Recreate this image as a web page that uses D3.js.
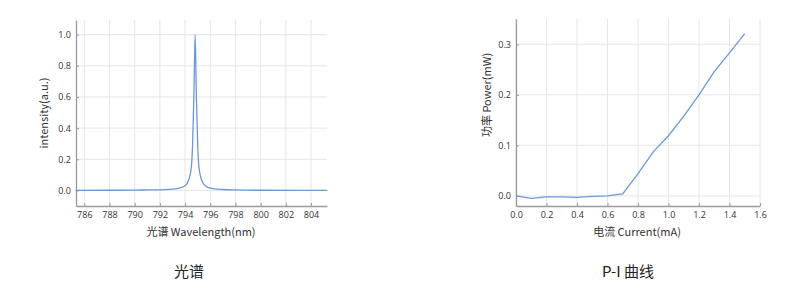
<!DOCTYPE html>
<html>
<head>
<meta charset="utf-8">
<script src="https://cdn.jsdelivr.net/npm/d3@7"></script>
<style>
  body { margin: 0; background: #fff; }
  text { font-family: "Noto Sans CJK SC", "Open Sans", sans-serif; }
</style>
</head>
<body>
<script>
// spectrum: wavelength (nm) vs intensity (a.u.)
var wavelength = [785.3, 788, 790, 791, 792, 793, 793.5, 794, 794.3, 794.5, 794.6, 794.7, 794.8, 794.9, 795.0, 795.1, 795.3, 795.6, 796, 797, 798, 800, 805.3];
var intensity  = [0, 0.001, 0.002, 0.003, 0.004, 0.008, 0.014, 0.03, 0.07, 0.15, 0.3, 0.6, 1.0, 0.6, 0.3, 0.15, 0.07, 0.03, 0.015, 0.006, 0.003, 0.001, 0];
var wlTicks = [786, 788, 790, 792, 794, 796, 798, 800, 802, 804];
var intTicks = [0, 0.2, 0.4, 0.6, 0.8, 1.0];

// P-I curve: current (mA) vs power (mW)
var current = [0, 0.1, 0.2, 0.3, 0.4, 0.5, 0.6, 0.7, 0.8, 0.9, 1.0, 1.1, 1.2, 1.3, 1.4, 1.5];
var power   = [0, -0.005, -0.002, -0.002, -0.003, -0.001, 0, 0.004, 0.044, 0.087, 0.119, 0.158, 0.2, 0.246, 0.283, 0.321];
var curTicks = [0, 0.2, 0.4, 0.6, 0.8, 1.0, 1.2, 1.4, 1.6];
var powTicks = [0, 0.1, 0.2, 0.3];

var svg = d3.select("body").append("svg")
    .attr("width", 797)
    .attr("height", 295);

// draws one small panel
function panel(opt) {
    var x = d3.scaleLinear().domain(opt.xDomain).range([opt.left, opt.right]);
    var y = d3.scaleLinear().domain(opt.yDomain).range([opt.bottom, opt.top]);
    var g = svg.append("g");

    // grid
    g.selectAll(".vg").data(opt.xTicks).enter().append("line")
        .attr("x1", function(d){ return x(d); }).attr("x2", function(d){ return x(d); })
        .attr("y1", opt.top).attr("y2", opt.bottom)
        .attr("stroke", "#e6e6e6").attr("stroke-width", 1);
    g.selectAll(".hg").data(opt.yTicks).enter().append("line")
        .attr("y1", function(d){ return y(d); }).attr("y2", function(d){ return y(d); })
        .attr("x1", opt.left).attr("x2", opt.right)
        .attr("stroke", "#e6e6e6").attr("stroke-width", 1);

    // axes
    var xAxis = d3.axisBottom(x).tickValues(opt.xTicks).tickFormat(opt.xFmt)
        .tickSizeInner(-3).tickSizeOuter(0).tickPadding(6);
    var yAxis = d3.axisLeft(y).tickValues(opt.yTicks).tickFormat(d3.format(".1f"))
        .tickSizeInner(-3).tickSizeOuter(0).tickPadding(5);

    var ax = g.append("g").attr("transform", "translate(0," + opt.bottom + ")").call(xAxis);
    var ay = g.append("g").attr("transform", "translate(" + opt.left + ",0)").call(yAxis);
    [ax, ay].forEach(function(a){
        a.select(".domain").attr("stroke", "#9a9a9a").attr("stroke-width", 1.3);
        a.selectAll(".tick line").attr("stroke", "#9a9a9a");
        a.selectAll(".tick text").attr("fill", "#333").style("font-size", "9px")
            .style("font-family", "'Open Sans', sans-serif");
    });

    // line
    var pts = opt.xs.map(function(v, i){ return [v, opt.ys[i]]; });
    g.append("path").datum(pts)
        .attr("fill", "none")
        .attr("stroke", "#6c98d8")
        .attr("stroke-width", 1.3)
        .attr("d", d3.line()
            .x(function(d){ return x(d[0]); })
            .y(function(d){ return y(d[1]); })
            .curve(opt.curve));

    // labels
    g.append("text").attr("x", opt.xLabelX).attr("y", 236)
        .attr("text-anchor", "middle").attr("fill", "#333").style("font-size", "11px")
        .text(opt.xLabel);
    g.append("text")
        .attr("transform", "translate(" + opt.yLabelX + "," + opt.yLabelY + ") rotate(-90)")
        .attr("text-anchor", "middle").attr("fill", "#333").style("font-size", "11px")
        .text(opt.yLabel);
    g.append("text").attr("x", opt.capX).attr("y", 277)
        .attr("text-anchor", "middle").attr("fill", "#222").style("font-size", "15px")
        .text(opt.caption);
}

panel({
    xs: wavelength, ys: intensity,
    xDomain: [785.34, 805.27], yDomain: [-0.1, 1.094],
    left: 76, right: 327, top: 20, bottom: 206,
    xTicks: wlTicks, yTicks: intTicks, xFmt: d3.format("d"),
    curve: d3.curveMonotoneX,
    xLabel: "光谱 Wavelength(nm)", xLabelX: 201,
    yLabel: "intensity(a.u.)", yLabelX: 48, yLabelY: 113,
    caption: "光谱", capX: 189
});

panel({
    xs: current, ys: power,
    xDomain: [0, 1.6], yDomain: [-0.02, 0.35],
    left: 516, right: 760, top: 19, bottom: 206,
    xTicks: curTicks, yTicks: powTicks, xFmt: d3.format(".1f"),
    curve: d3.curveLinear,
    xLabel: "电流 Current(mA)", xLabelX: 637,
    yLabel: "功率 Power(mW)", yLabelX: 491, yLabelY: 95,
    caption: "P-I 曲线", capX: 628
});
</script>
</body>
</html>
